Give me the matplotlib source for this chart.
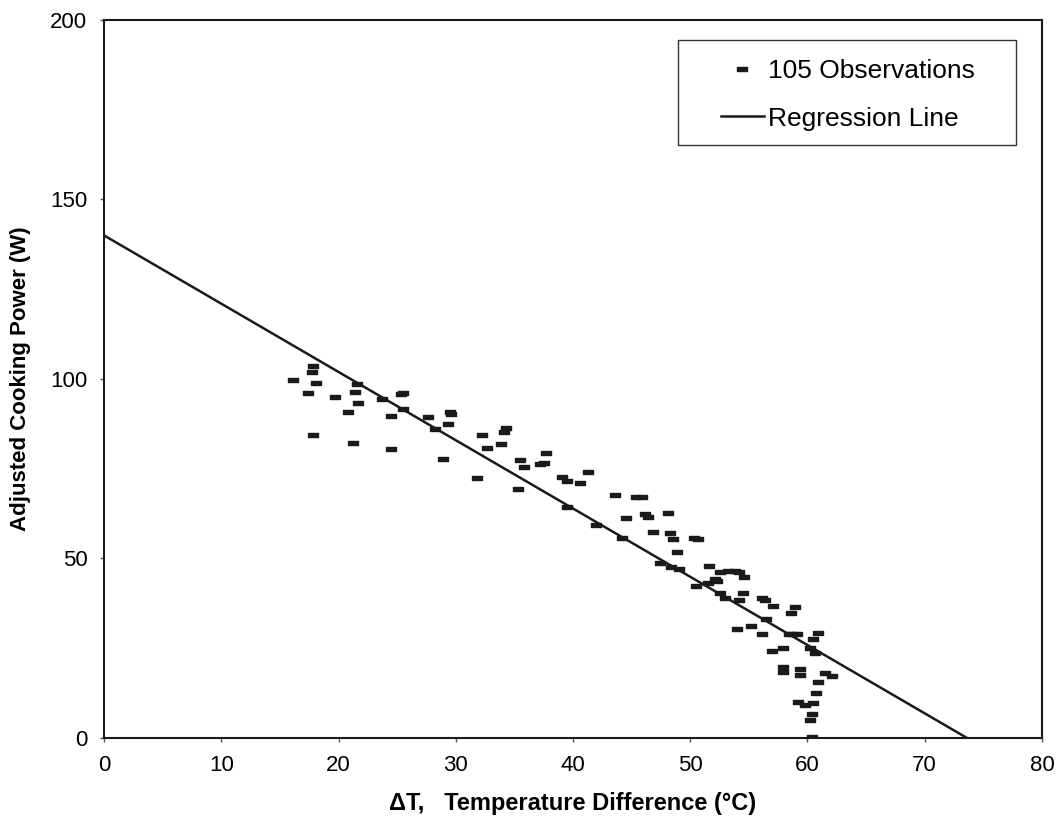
import matplotlib
matplotlib.use("Agg")
import matplotlib.pyplot as plt
import numpy as np
from matplotlib.path import Path
from matplotlib.patches import Rectangle

plt.rcParams['font.family'] = ['Liberation Sans', 'DejaVu Sans']

# Observations (delta T in degC, adjusted cooking power in W)
obs_dt = [16.1, 17.8, 17.7, 18.1, 17.4, 19.7, 21.6, 21.4, 21.7, 20.8, 17.8, 21.2,
          23.7, 25.5, 25.3, 25.5, 24.5, 24.5, 27.6, 29.5, 29.6, 29.3, 28.2, 28.9,
          32.2, 32.7, 33.9, 34.3, 34.1, 31.8, 35.5, 35.8, 35.3, 37.2, 37.7,
          39.1, 39.5, 40.6, 41.3, 39.5, 43.6, 45.4, 45.9, 44.5, 42.0, 46.1, 46.4,
          48.1, 46.8, 48.3, 48.5, 50.3, 50.7, 48.9, 44.2, 47.4, 48.4, 51.6,
          52.5, 53.2, 53.8, 54.2, 54.6, 52.1, 52.3, 50.5, 51.5,
          52.5, 53.0, 54.2, 54.5, 56.1, 56.4, 57.1, 58.9, 58.6, 56.5, 54.0, 55.2,
          56.1, 58.4, 58.8, 59.1, 60.5, 60.9, 60.2, 60.6, 57.0, 57.9, 57.9, 57.9,
          59.4, 59.4, 61.5, 62.1, 60.9, 60.7, 59.2, 59.8, 60.5, 60.4, 60.2, 60.4,
          37.5, 49.0]
obs_power = [99.7, 103.7, 101.9, 98.8, 96.2, 95.0, 98.7, 96.4, 93.2, 90.7, 84.4, 82.3,
             94.3, 96.2, 95.8, 91.7, 89.7, 80.4, 89.3, 90.9, 90.2, 87.5, 86.0, 77.6,
             84.4, 80.7, 81.8, 86.4, 85.2, 72.5, 77.4, 75.5, 69.3, 76.4, 79.5,
             72.8, 71.6, 71.1, 74.1, 64.3, 67.7, 67.2, 67.2, 61.2, 59.3, 62.4, 61.6,
             62.6, 57.5, 57.0, 55.4, 55.6, 55.4, 51.9, 55.8, 48.7, 47.7, 48.0,
             46.3, 46.6, 46.6, 46.3, 44.9, 44.2, 43.8, 42.3, 43.1,
             40.3, 38.9, 38.4, 40.3, 38.9, 38.4, 36.8, 36.6, 34.7, 33.1, 30.3, 31.2,
             29.0, 29.0, 29.0, 29.0, 27.7, 29.2, 25.2, 23.8, 24.1, 25.2, 19.9, 18.5,
             19.1, 17.5, 18.2, 17.4, 15.7, 12.6, 10.1, 9.2, 9.7, 6.7, 5.0, 0.4,
             76.6, 47.2]

# Regression line
reg_intercept = 140.0
reg_slope = -1.902
reg_x = [0.0, -reg_intercept / reg_slope]

x_ticks = [0, 10, 20, 30, 40, 50, 60, 70, 80]
y_ticks = [0, 50, 100, 150, 200]

fig = plt.figure(figsize=(10.57, 8.22), dpi=100)
ax = fig.add_axes([0.0984, 0.1022, 0.8874, 0.8735])

dash = Path([(-1, -0.5), (1, -0.5), (1, 0.5), (-1, 0.5), (-1, -0.5)],
            [Path.MOVETO, Path.LINETO, Path.LINETO, Path.LINETO, Path.CLOSEPOLY])

ax.plot(obs_dt, obs_power, linestyle='none', marker=dash, markersize=6.5,
        color='#1a1a1a', label='105 Observations')
reg_y = [reg_intercept + reg_slope * v for v in reg_x]
ax.plot(reg_x, reg_y, color='#1a1a1a', linewidth=1.8, label='Regression Line')

ax.set_xlim(0, 80)
ax.set_ylim(0, 200)
ax.set_xticks(x_ticks)
ax.set_yticks(y_ticks)
ax.tick_params(direction='out', length=3, width=1.0, color='#555555',
               labelsize=16, pad=9)
for s in ax.spines.values():
    s.set_linewidth(1.5)
    s.set_color('#1a1a1a')

ax.set_xlabel('ΔT,   Temperature Difference (°C)', fontsize=17, fontweight='bold', labelpad=12)
ax.set_ylabel('Adjusted Cooking Power (W)', fontsize=16, fontweight='bold', labelpad=14)

# legend frame drawn separately to match the wide padding of the original
ax.add_patch(Rectangle((0.612, 0.826), 0.360, 0.146, transform=ax.transAxes,
                       fill=False, edgecolor='#333333', linewidth=1.0, zorder=5))
leg = ax.legend(loc='center', bbox_to_anchor=(0.793, 0.896), fontsize=19,
                frameon=False, borderpad=0, labelspacing=0.9,
                handlelength=1.65, handletextpad=0.15, borderaxespad=0)

fig.savefig('out.png', dpi=100)
